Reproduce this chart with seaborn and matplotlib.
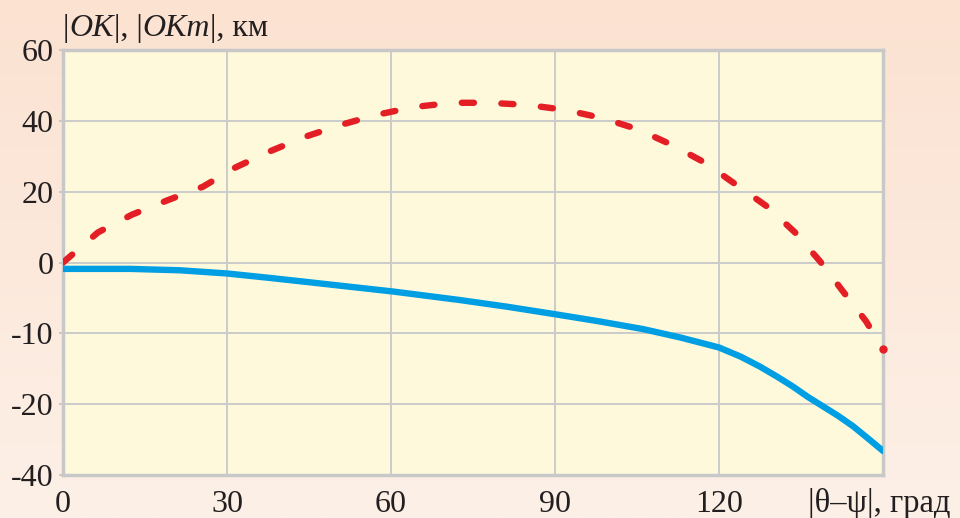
import numpy as np
import pandas as pd
import matplotlib
matplotlib.use('Agg')
import matplotlib.pyplot as plt
from matplotlib.colors import LinearSegmentedColormap
import seaborn as sns

# Data (x in degrees, y in km)
angle_ok = [0, 12.3, 21.4, 30, 37.5, 45.2, 52.8, 60.4, 72.6, 81.3, 90, 98.0, 106.1, 113.0,
            120, 124.0, 127.5, 130.6, 133.5, 136.3, 139.0, 141.8, 144.5, 147.2, 150]
ok_km = [-0.9, -0.9, -1.1, -1.55, -2.15, -2.8, -3.45, -4.1, -5.3, -6.25, -7.3, -8.3, -9.4, -10.6,
         -12.0, -13.3, -14.7, -16.1, -17.5, -19.0, -20.6, -23.3, -26.2, -29.6, -33.2]

angle_okt = [0, 6.4, 12.6, 19.0, 25.6, 31.5, 37.7, 44.3, 50.9, 57.4, 64.2, 71.2, 77.9, 84.9,
             91.8, 98.6, 105.0, 111.4, 117.4, 123.1, 128.8, 133.9, 138.5, 142.7, 146.9, 150]
okt_km = [0, 8.5, 13.5, 17.5, 21.4, 26.8, 31.3, 35.5, 38.9, 41.7, 43.9, 45.1, 45.1, 44.5,
          43.1, 40.8, 37.7, 33.2, 28.2, 22.0, 15.8, 8.5, 0.3, -4.1, -8.3, -12.25]

x_ticks = [0, 30, 60, 90, 120, 150]
x_tick_labels = ['0', '30', '60', '90', '120', '']
y_ticks = [-40, -20, -10, 0, 20, 40, 60]
y_tick_labels = ['-40', '-20', '-10', '0', '20', '40', '60']

df_ok = pd.DataFrame({'angle': angle_ok, 'km': ok_km})
df_okt = pd.DataFrame({'angle': angle_okt, 'km': okt_km})

sns.set_theme(style="whitegrid")
plt.rcParams['font.family'] = ['Liberation Serif', 'DejaVu Serif']

text_color = '#231F20'


# the source axis is stretched below zero: 0..-20 takes two grid steps of 10
def fwd(y):
    y = np.asarray(y, dtype=float)
    return np.where(y >= 0, y, np.where(y >= -20, 2 * y, y - 20))


def inv(p):
    p = np.asarray(p, dtype=float)
    return np.where(p >= 0, p, np.where(p >= -40, p / 2, p + 20))


fig = plt.figure(figsize=(9.6, 5.18), dpi=100)

# peach gradient background
bg = fig.add_axes([0, 0, 1, 1], zorder=-5)
grad = np.linspace(0, 1, 256).reshape(-1, 1)
cmap = LinearSegmentedColormap.from_list('bg', ['#FBE2D1', '#FDF0E7'])
bg.imshow(grad, aspect='auto', cmap=cmap, extent=[0, 1, 0, 1])
bg.set_axis_off()

ax = fig.add_axes([63 / 960, 1 - 475 / 518, 820 / 960, 425 / 518])
ax.set_facecolor('#FFF9DC')

sns.lineplot(data=df_ok, x='angle', y='km', ax=ax, color='#009FE3', linewidth=4.6,
             solid_capstyle='round', solid_joinstyle='round', zorder=3)
sns.lineplot(data=df_okt, x='angle', y='km', ax=ax, color='#E31E24', linewidth=4.6,
             dashes=False, zorder=3)
red = ax.lines[-1]
red.set_dashes([1.9, 4.3])
red.set_dash_capstyle('round')
# short end mark like in the source
ax.plot(angle_okt[-1:], okt_km[-1:], 'o', color='#E31E24', markersize=5, zorder=3, clip_on=False)

ax.set_yscale('function', functions=(fwd, inv))
ax.set_xlim(0, 150)
ax.set_ylim(-40, 60)
ax.set_xticks(x_ticks)
ax.set_xticklabels(x_tick_labels)
ax.set_yticks(y_ticks)
ax.set_yticklabels(y_tick_labels)
ax.set_xlabel('')
ax.set_ylabel('')

ax.grid(True, color='#CBCBCB', linewidth=1.4)
for side in ax.spines.values():
    side.set_color('#C8C8C8')
    side.set_linewidth(2.5)
ax.tick_params(axis='y', which='both', left=True, length=3, width=1.4, color='#C8C8C8',
               pad=4, labelsize=23, labelcolor=text_color)
ax.tick_params(axis='x', which='both', bottom=False, pad=5, labelsize=23, labelcolor=text_color)

# y axis caption, italic parts chained one after another
parts = [('|', 'normal'), ('ОК', 'italic'), ('|, |', 'normal'), ('ОКт', 'italic'), ('|, км', 'normal')]
prev = fig.text(63 / 960, 1 - 36 / 518, parts[0][0], fontsize=23, style=parts[0][1],
                color=text_color, va='baseline')
for txt, st in parts[1:]:
    prev = ax.annotate(txt, xy=(1, 0), xycoords=prev, xytext=(0, 0), textcoords='offset points',
                       fontsize=23, style=st, color=text_color, va='bottom', ha='left',
                       annotation_clip=False)

fig.text(808 / 960, 1 - 512 / 518, '|θ–ψ|, град', fontsize=23.5, color=text_color, va='baseline')

fig.savefig('out.png', dpi=100)
plt.close()
